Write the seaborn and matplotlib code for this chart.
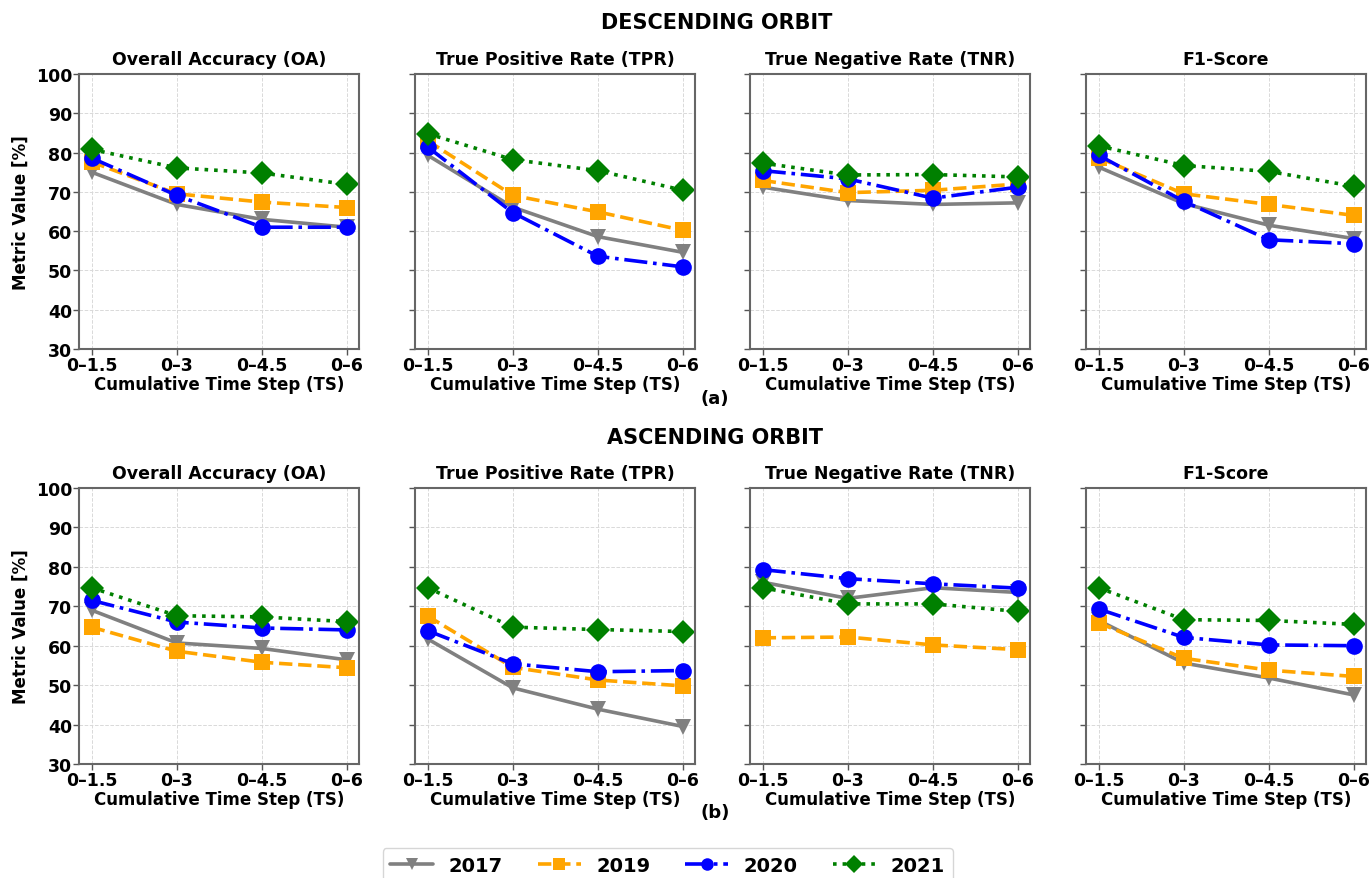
import numpy as np
import pandas as pd
import matplotlib
matplotlib.use("Agg")
import matplotlib.pyplot as plt
import seaborn as sns

sns.set_theme(style="whitegrid")
plt.rcParams['font.family'] = ['DejaVu Sans']
plt.rcParams['font.weight'] = 'bold'
plt.rcParams['text.color'] = 'black'
plt.rcParams['axes.labelcolor'] = 'black'
plt.rcParams['xtick.color'] = 'black'
plt.rcParams['ytick.color'] = 'black'

# data
steps = ["0–1.5", "0–3", "0–4.5", "0–6"]
years = ["2017", "2019", "2020", "2021"]
metrics = ["Overall Accuracy (OA)", "True Positive Rate (TPR)",
           "True Negative Rate (TNR)", "F1-Score"]

# descending orbit
desc_oa = {"2017": [75.0, 66.8, 63.0, 61.0], "2019": [77.6, 69.5, 67.4, 66.0],
           "2020": [78.6, 69.1, 61.0, 61.0], "2021": [80.8, 76.1, 74.8, 71.9]}
desc_tpr = {"2017": [79.3, 66.1, 58.6, 54.6], "2019": [83.0, 69.1, 64.9, 60.2],
            "2020": [81.4, 64.7, 53.6, 50.9], "2021": [84.8, 78.2, 75.4, 70.4]}
desc_tnr = {"2017": [71.2, 67.8, 66.8, 67.2], "2019": [72.9, 69.8, 70.4, 72.0],
            "2020": [75.4, 73.3, 68.4, 71.2], "2021": [77.3, 74.3, 74.4, 73.8]}
desc_f1 = {"2017": [76.3, 67.0, 61.5, 58.1], "2019": [78.7, 69.5, 66.8, 64.0],
           "2020": [79.3, 67.6, 57.8, 56.8], "2021": [81.7, 76.7, 75.2, 71.4]}

# ascending orbit
asc_oa = {"2017": [69.0, 60.7, 59.3, 56.4], "2019": [64.7, 58.6, 55.8, 54.4],
          "2020": [71.5, 66.0, 64.5, 64.0], "2021": [74.7, 67.6, 67.3, 66.1]}
asc_tpr = {"2017": [61.7, 49.3, 43.9, 39.5], "2019": [67.5, 54.5, 51.3, 49.8],
           "2020": [63.8, 55.4, 53.4, 53.7], "2021": [74.7, 64.7, 64.1, 63.6]}
asc_tnr = {"2017": [76.1, 72.0, 74.7, 73.5], "2019": [62.0, 62.2, 60.2, 59.0],
           "2020": [79.3, 77.0, 75.7, 74.6], "2021": [74.7, 70.6, 70.6, 68.7]}
asc_f1 = {"2017": [66.4, 55.6, 51.8, 47.5], "2019": [65.8, 56.8, 53.8, 52.2],
          "2020": [69.3, 62.1, 60.2, 60.0], "2021": [74.7, 66.6, 66.4, 65.4]}

orbits = {"desc": [desc_oa, desc_tpr, desc_tnr, desc_f1],
          "asc": [asc_oa, asc_tpr, asc_tnr, asc_f1]}

rows = []
for orbit, tables in orbits.items():
    for metric, table in zip(metrics, tables):
        for year in years:
            for i, v in enumerate(table[year]):
                rows.append([orbit, metric, year, i, v])
df = pd.DataFrame(rows, columns=["orbit", "metric", "year", "pos", "value"])

palette = {"2017": "gray", "2019": "orange", "2020": "blue", "2021": "green"}
markers = {"2017": "v", "2019": "s", "2020": "o", "2021": "D"}
dashes = {"2017": "", "2019": (3.7, 1.6), "2020": (6.4, 1.6, 1, 1.6), "2021": (1, 1.65)}

fig = plt.figure(figsize=(13.71, 8.79), dpi=100)

lefts = [0.0576, 0.3027, 0.5470, 0.7921]
width = 0.2042
row_pos = {"desc": (0.6018, 0.3129), "asc": (0.1297, 0.3140)}

handles, labels = None, None
for orbit in ["desc", "asc"]:
    bottom, height = row_pos[orbit]
    for j, metric in enumerate(metrics):
        ax = fig.add_axes([lefts[j], bottom, width, height])
        sub = df[(df.orbit == orbit) & (df.metric == metric)]
        sns.lineplot(data=sub, x="pos", y="value", hue="year", style="year",
                     palette=palette, markers=markers, dashes=dashes,
                     linewidth=2.6, markersize=12, markeredgewidth=0,
                     ax=ax, legend=(handles is None))
        if handles is None:
            handles, labels = ax.get_legend_handles_labels()
            ax.get_legend().remove()
        ax.set_xlim(-0.15, 3.14)
        ax.set_ylim(30, 100)
        ax.set_xticks(range(len(steps)))
        ax.set_xticklabels(steps)
        ax.set_yticks(range(30, 101, 10))
        ax.grid(True, linestyle="--", color="#d9d9d9", linewidth=0.7)
        ax.tick_params(axis="both", labelsize=12.5, length=4, width=1,
                       color="#555555", pad=1, bottom=True, left=True)
        for lab in ax.get_xticklabels() + ax.get_yticklabels():
            lab.set_fontweight("bold")
        for sp in ax.spines.values():
            sp.set_color("#666666")
            sp.set_linewidth(1.5)
        ax.set_title(metric, fontsize=12.5, fontweight="bold", pad=7)
        ax.set_xlabel("Cumulative Time Step (TS)", fontsize=12, fontweight="bold", labelpad=1)
        if j == 0:
            ax.set_ylabel("Metric Value [%]", fontsize=12, fontweight="bold")
        else:
            ax.set_ylabel("")
            ax.set_yticklabels([])

fig.text(0.523, 0.974, "DESCENDING ORBIT", ha="center", va="center",
         fontsize=15, fontweight="bold")
fig.text(0.5215, 0.546, "(a)", ha="center", va="center", fontsize=13, fontweight="bold")
fig.text(0.5215, 0.502, "ASCENDING ORBIT", ha="center", va="center",
         fontsize=15, fontweight="bold")
fig.text(0.5215, 0.075, "(b)", ha="center", va="center", fontsize=13, fontweight="bold")

for h in handles:
    h.set_markersize(9)
    h.set_linewidth(2.6)
    h.set_markeredgewidth(0)
leg = fig.legend(handles, labels, loc="upper left", bbox_to_anchor=(0.279, 0.034),
                 ncol=4, frameon=True, prop={"weight": "bold", "size": 14},
                 handlelength=2.2, columnspacing=1.8, borderaxespad=0)
leg.get_frame().set_edgecolor("#cccccc")

fig.savefig("out.png", dpi=100)
